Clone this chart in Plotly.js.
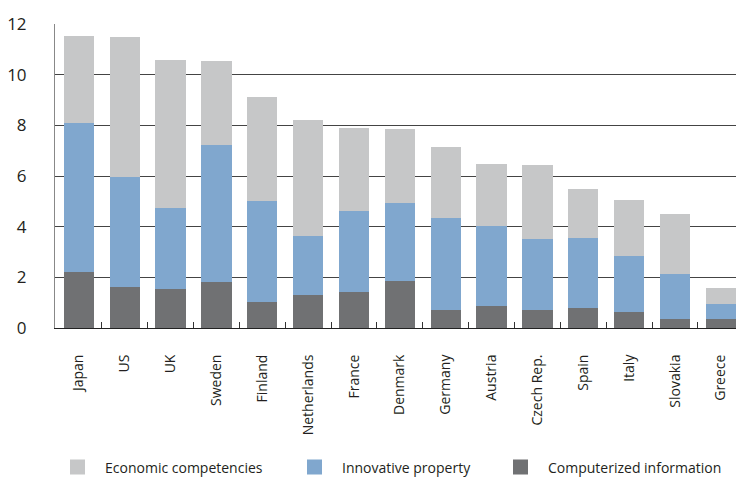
<!DOCTYPE html>
<html>
<head>
<meta charset="utf-8">
<script src="https://cdn.plot.ly/plotly-3.0.1.min.js"></script>
<style>html,body{margin:0;padding:0;background:#fff;}#chart{width:736px;height:477px;}</style>
</head>
<body>
<div id="chart"></div>
<script>
var countries = ["Japan","US","UK","Sweden","Finland","Netherlands","France","Denmark","Germany","Austria","Czech Rep.","Spain","Italy","Slovakia","Greece"];
var computerized = [2.22,1.63,1.55,1.83,1.04,1.31,1.43,1.87,0.72,0.88,0.72,0.80,0.64,0.37,0.37];
var innovative   = [5.88,4.34,3.20,5.41,3.99,2.33,3.20,3.08,3.63,3.16,2.81,2.76,2.21,1.77,0.59];
var economic     = [3.44,5.53,5.84,3.31,4.10,4.58,3.28,2.91,2.80,2.45,2.92,1.94,2.22,2.37,0.63];
var seriesNames = ["Economic competencies","Innovative property","Computerized information"];
var colors = {econ:"#c6c7c8", innov:"#80a7ce", comp:"#707173"};

var font = "'Open Sans', 'Noto Sans', sans-serif";
var bw = 0.66;
var traces = [
  {type:"bar", x:countries, y:computerized, name:seriesNames[2], marker:{color:colors.comp}, width:bw, showlegend:false, hoverinfo:"none"},
  {type:"bar", x:countries, y:innovative, name:seriesNames[1], marker:{color:colors.innov}, width:bw, showlegend:false, hoverinfo:"none"},
  {type:"bar", x:countries, y:economic, name:seriesNames[0], marker:{color:colors.econ}, width:bw, showlegend:false, hoverinfo:"none"},
  {type:"scatter", mode:"markers", x:[null], y:[null], name:seriesNames[0], marker:{symbol:"square", size:15, color:colors.econ}, legend:"legend"},
  {type:"scatter", mode:"markers", x:[null], y:[null], name:seriesNames[1], marker:{symbol:"square", size:15, color:colors.innov}, legend:"legend2"},
  {type:"scatter", mode:"markers", x:[null], y:[null], name:seriesNames[2], marker:{symbol:"square", size:15, color:colors.comp}, legend:"legend3"}
];

function leg(px){
  return {xref:"container", yref:"container", x:px/736, xanchor:"left", y:(477-467.5)/477, yanchor:"middle",
          orientation:"h", itemwidth:45, font:{family:font, size:14, color:"#231f20"}, bgcolor:"rgba(0,0,0,0)", borderwidth:0};
}

var layout = {
  width:736, height:477,
  margin:{l:55, r:0, t:24, b:149},
  paper_bgcolor:"#fff", plot_bgcolor:"#fff",
  barmode:"stack",
  font:{family:font, color:"#231f20"},
  xaxis:{type:"category", range:[-0.52, 14.33], tickangle:-90, tickson:"boundaries", ticks:"inside", ticklen:6, tickcolor:"#333", tickwidth:1,
         showline:true, linecolor:"#222", linewidth:1, showgrid:false, tickfont:{family:font, size:14, color:"#231f20"}, ticklabelstandoff:20, fixedrange:true},
  yaxis:{range:[0,12], dtick:2, showgrid:true, gridcolor:"#444", gridwidth:1, zeroline:false, showline:true, linecolor:"#888", linewidth:1,
         ticks:"", tickfont:{family:font, size:17, color:"#231f20"}, ticklabelstandoff:24, fixedrange:true},
  legend:leg(50), legend2:leg(287), legend3:leg(493),
  showlegend:true
};
Plotly.newPlot("chart", traces, layout, {displayModeBar:false, staticPlot:true});
</script>
</body>
</html>
